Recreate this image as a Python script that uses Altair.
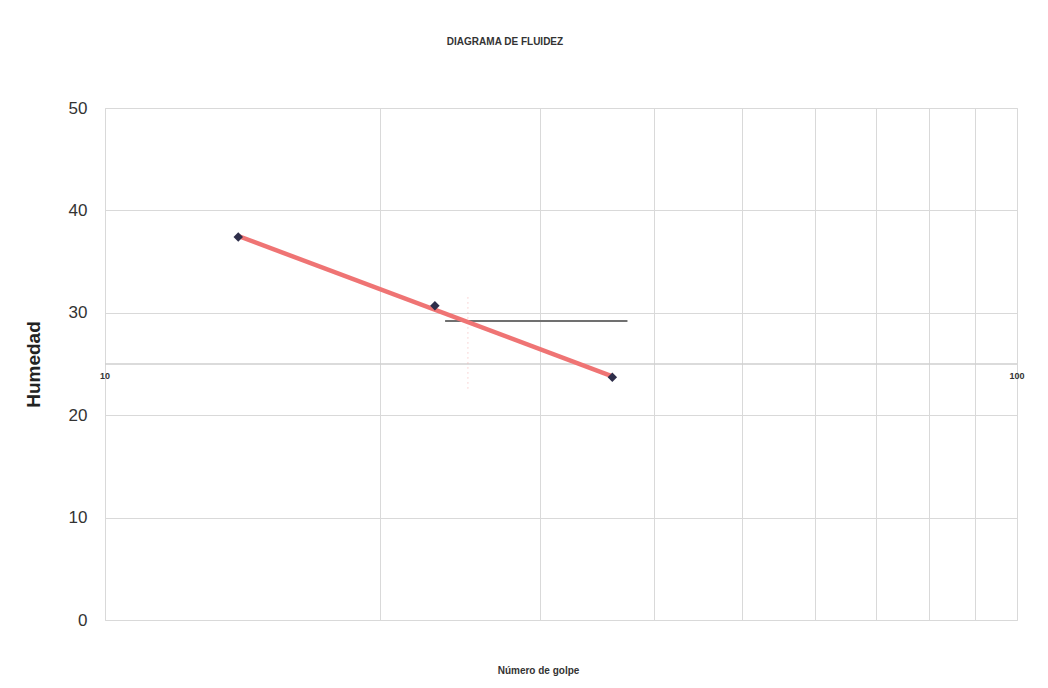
import altair as alt
import pandas as pd

# Data
golpes = [14, 23, 36]
humedad = [37.4, 30.7, 23.7]
trend_golpes = [14, 36]
trend_humedad = [37.5, 23.8]
ref_golpes = [23.6, 37.4]
ref_humedad = [29.2, 29.2]
cut_golpes = [25, 25]
cut_humedad = [31.5, 22.3]
x_ticks = [10, 20, 30, 40, 50, 60, 70, 80, 90, 100]
y_ticks = [0, 10, 20, 30, 40, 50]
x_label_pos = [10, 100]
x_label_txt = ["10", "100"]
axis_cross = [25]

FONT = "Liberation Sans"

pts = pd.DataFrame({"g": golpes, "h": humedad})
trend = pd.DataFrame({"g": trend_golpes, "h": trend_humedad})
ref = pd.DataFrame({"g": ref_golpes, "h": ref_humedad})
cut = pd.DataFrame({"g": cut_golpes, "h": cut_humedad})
labs = pd.DataFrame({"g": x_label_pos, "t": x_label_txt, "h": [axis_cross[0]] * 2})
cross = pd.DataFrame({"h": axis_cross})

xscale = alt.Scale(type="log", domain=[10, 100], nice=False)
yscale = alt.Scale(domain=[0, 50], nice=False)

xaxis = alt.Axis(values=x_ticks, labels=False, ticks=False, domain=False,
                 grid=True, gridColor="#d9d9d9", gridWidth=1,
                 title="Número de golpe", titleFont=FONT, titleFontSize=10,
                 titleFontWeight="bold", titleColor="#333333",
                 titleX=433, titleY=50, titleBaseline="middle", titleAlign="center")
yaxis = alt.Axis(values=y_ticks, ticks=False, domain=False, grid=True,
                 gridColor="#d9d9d9", gridWidth=1,
                 labelFont=FONT, labelFontSize=17, labelColor="#333333",
                 labelPadding=18,
                 title="Humedad", titleFont=FONT, titleFontSize=19,
                 titleFontWeight="bold", titleColor="#222222",
                 titleX=-72, titleY=256, titleAngle=-90,
                 titleBaseline="middle", titleAlign="center")

X = lambda: alt.X("g:Q", scale=xscale, axis=xaxis)
Y = lambda: alt.Y("h:Q", scale=yscale, axis=yaxis)

cross_line = alt.Chart(cross).mark_rule(color="#cfcfcf", strokeWidth=1.5).encode(
    y=Y(), x=alt.value(0), x2=alt.value(912))

cut_line = alt.Chart(cut).mark_line(color="#f0a0a0", strokeWidth=1,
                                    strokeDash=[1, 4], opacity=0.8).encode(x=X(), y=Y())

ref_line = alt.Chart(ref).mark_line(color="#707070", strokeWidth=2).encode(x=X(), y=Y())

trend_line = alt.Chart(trend).mark_line(color="#ef7474", strokeWidth=4.5).encode(x=X(), y=Y())

points = alt.Chart(pts).mark_point(shape="diamond", filled=True, size=90,
                                   color="#2e2e4a", opacity=1).encode(x=X(), y=Y())

labels = alt.Chart(labs).mark_text(font=FONT, fontSize=9, color="#333333",
                                   dy=12, fontWeight="bold").encode(
    x=X(), y=Y(), text="t:N")

chart = alt.layer(cross_line, cut_line, ref_line, trend_line, points, labels).properties(
    width=912, height=512,
    title=alt.TitleParams("DIAGRAMA DE FLUIDEZ", font=FONT, fontSize=10,
                          fontWeight="bold", color="#333333", anchor="middle",
                          offset=52, dx=-56),
    autosize=alt.AutoSizeParams(type="none"),
    padding={"left": 97, "top": 100, "right": 20, "bottom": 60},
).configure_view(stroke="#cfcfcf", strokeWidth=1).configure(background="white")

chart.save("out.html", embed_options={"renderer": "svg", "actions": False})
